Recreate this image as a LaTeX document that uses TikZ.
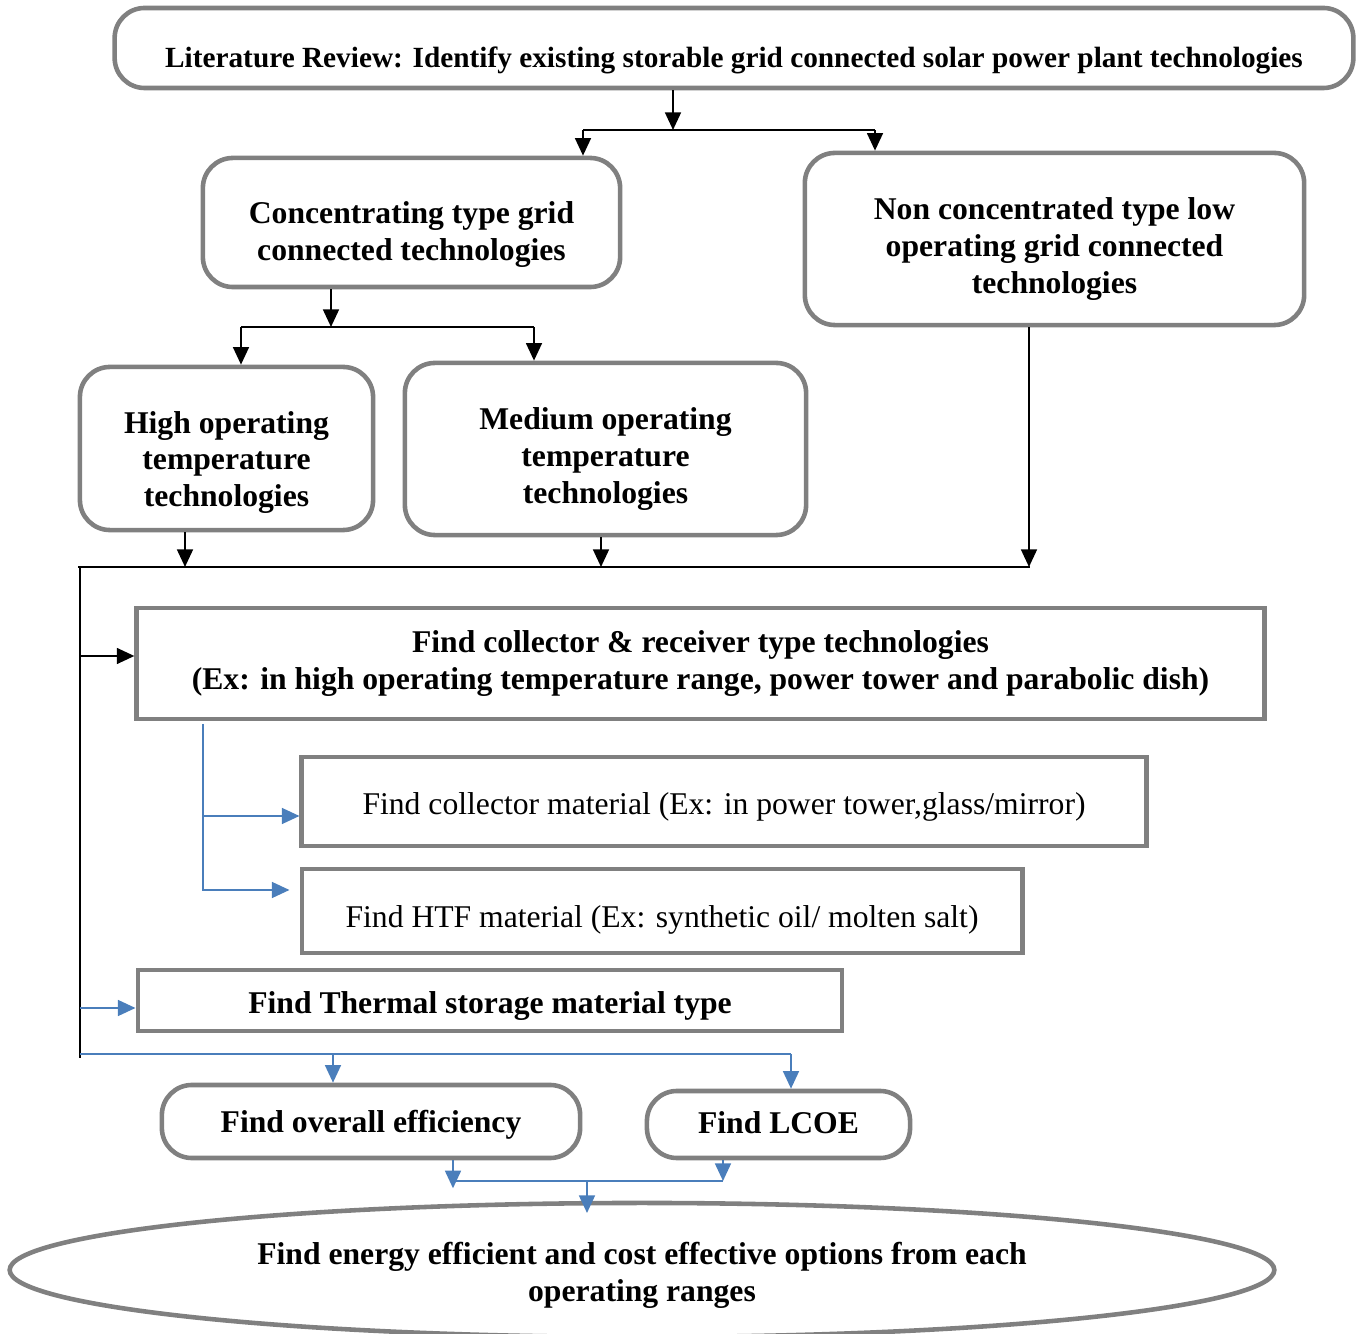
\documentclass[tikz,border=0pt]{standalone}
\usepackage{fontspec}
\setmainfont{Liberation Serif}
\usetikzlibrary{arrows.meta,shapes.geometric}
\definecolor{boxgray}{RGB}{128,128,128}
\definecolor{linkblue}{RGB}{74,126,187}
\newcommand{\droptext}[2]{\raisebox{-#1}[\height][\depth]{\begin{tabular}{@{}c@{}}#2\end{tabular}}}
\tikzset{>={Triangle[length=5pt,width=4.5pt]}}
\tikzset{
  rbox/.style={draw=boxgray, line width=1.3pt, rounded corners=0.3cm, inner sep=0pt,
    font=\bfseries\fontsize{9}{10.5}\selectfont},
  sbox/.style={draw=boxgray, line width=1.3pt, inner sep=0pt,
    font=\fontsize{9}{10.5}\selectfont},
  blk/.style={->, line width=0.6pt},
  blu/.style={->, draw=linkblue, line width=0.6pt},
}

\begin{document}
\begin{tikzpicture}[x=0.01cm, y=-0.01cm]
    \clip (0,0) rectangle (1363,1334);
    \node[rbox, minimum width=12.38cm, minimum height=0.80cm, font=\bfseries\fontsize{8.33}{9.5}\selectfont] (lit) at (734,48) {\droptext{3.7pt}{Literature Review: Identify existing storable grid connected solar power plant technologies}};
    \node[rbox, minimum width=4.17cm, minimum height=1.29cm] (conc) at (411.5,222.5) {\droptext{3.4pt}{Concentrating type grid\\connected technologies}};
    \node[rbox, minimum width=4.99cm, minimum height=1.72cm] (noncon) at (1054.5,239) {\droptext{2.8pt}{Non concentrated type low\\operating grid connected\\technologies}};
    \node[rbox, minimum width=2.93cm, minimum height=1.63cm] (high) at (226.5,448.5) {\droptext{4pt}{High operating\\temperature\\technologies}};
    \node[rbox, minimum width=4.01cm, minimum height=1.72cm] (med) at (605.5,449) {\droptext{2.8pt}{Medium operating\\temperature\\technologies}};
    \node[sbox, minimum width=11.27cm, minimum height=1.11cm, font=\bfseries\fontsize{9}{10.5}\selectfont] (coll) at (700.5,663.5) {\droptext{0pt}{Find collector \& receiver type technologies\\(Ex: in high operating temperature range, power tower and parabolic dish)}};
    \node[sbox, minimum width=8.44cm, minimum height=0.89cm] (colmat) at (724,801.5) {\droptext{1.7pt}{Find collector material (Ex: in power tower,glass/mirror)}};
    \node[sbox, minimum width=7.20cm, minimum height=0.84cm] (htf) at (662,911) {\droptext{2.6pt}{Find HTF material (Ex: synthetic oil/ molten salt)}};
    \node[sbox, minimum width=7.04cm, minimum height=0.61cm, font=\bfseries\fontsize{9}{10.5}\selectfont] (therm) at (490,1000.5) {\droptext{1.7pt}{Find Thermal storage material type}};
    \node[rbox, minimum width=4.18cm, minimum height=0.73cm] (eff) at (371,1121.5) {\droptext{0.9pt}{Find overall efficiency}};
    \node[rbox, minimum width=2.63cm, minimum height=0.67cm] (lcoe) at (778.5,1124.5) {\droptext{0.6pt}{Find LCOE}};
    \node[ellipse, draw=boxgray, line width=1.3pt, inner sep=0pt, minimum width=12.64cm, minimum height=1.34cm, font=\bfseries\fontsize{9}{10.5}\selectfont] (goal) at (642,1270) {\droptext{1.7pt}{Find energy efficient and cost effective options from each\\operating ranges}};

    \coordinate (s1) at (673,130);
    \coordinate (s1l) at (583,130);
    \coordinate (s1r) at (875,130);
    \draw[blk] (lit.south -| s1) -- (s1);
    \draw (s1l) -- (s1r);
    \draw[blk] (s1l) -- (s1l |- conc.north);
    \draw[blk] (s1r) -- (s1r |- noncon.north);

    \coordinate (s2) at (331,327);
    \coordinate (s2l) at (241,327);
    \coordinate (s2r) at (534,327);
    \draw[blk] (conc.south -| s2) -- (s2);
    \draw (s2l) -- (s2r);
    \draw[blk] (s2l) -- (s2l |- high.north);
    \draw[blk] (s2r) -- (s2r |- med.north);

    \coordinate (busl) at (78,567);
    \coordinate (busr) at (1030,567);
    \coordinate (hb) at (185,567);
    \coordinate (mb) at (601,567);
    \coordinate (nb) at (1029,567);
    \coordinate (vtop) at (80,567);
    \coordinate (vbot) at (80,1058);
    \coordinate (ca) at (80,656);
    \draw[blk] (high.south -| hb) -- (hb);
    \draw[blk] (med.south -| mb) -- (mb);
    \draw[blk] (noncon.south -| nb) -- (nb);
    \draw (busl) -- (busr);
    \draw (vtop) -- (vbot);
    \draw[blk] (ca) -- (ca -| coll.west);

    \coordinate (bt) at (203,724);
    \coordinate (m1) at (203,816);
    \coordinate (h1) at (203,890);
    \draw[blu] (bt) -- (h1) -- ([xshift=-0.1cm]h1 -| htf.west);
    \draw[blu] (m1) -- (m1 -| colmat.west);

    \coordinate (t1) at (80,1008);
    \draw[blu] (t1) -- (t1 -| therm.west);

    \coordinate (e0) at (80,1054);
    \coordinate (e1) at (791,1054);
    \coordinate (e2) at (333,1054);
    \draw[blu, -] (e0) -- (e1);
    \draw[blu] (e2) -- (e2 |- eff.north);
    \draw[blu] (e1) -- (e1 |- lcoe.north);

    \coordinate (f1) at (453,1181);
    \coordinate (f2) at (723,1181);
    \coordinate (f3) at (587,1181);
    \draw[blu] (eff.south -| f1) -- ++(0,28);
    \draw[blu] (lcoe.south -| f2) -- (f2);
    \draw[blu, -] (f1) -- (f2);
    \draw[blu] (f3) -- ++(0,32);
\end{tikzpicture}
\end{document}
